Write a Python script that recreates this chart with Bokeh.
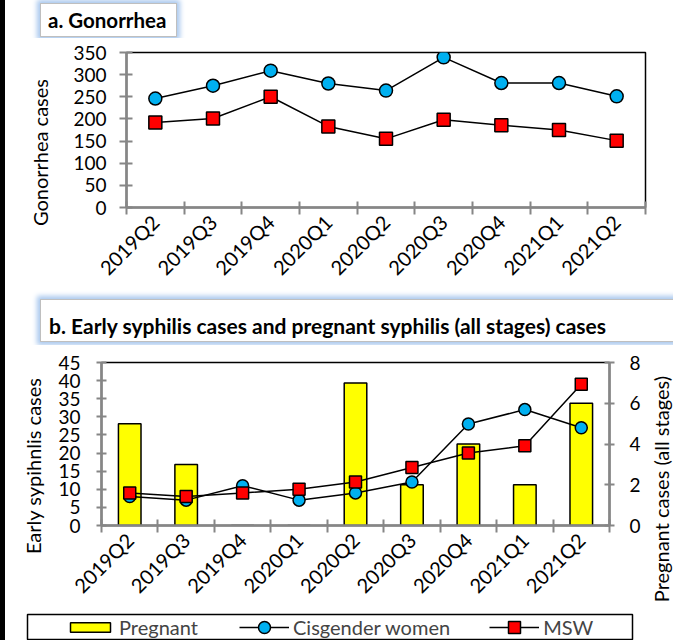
import math
from bokeh.plotting import figure
from bokeh.models import (Range1d, LinearAxis, FixedTicker, CustomJSTickFormatter,
                          Legend, LegendItem, Div)
from bokeh.layouts import column, row
from bokeh.embed import file_html
from bokeh.resources import INLINE

# ---------------- data ----------------
quarters = ["2019Q2", "2019Q3", "2019Q4", "2020Q1", "2020Q2",
            "2020Q3", "2020Q4", "2021Q1", "2021Q2"]
gonorrhea_women = [246, 275, 309, 280, 264, 339, 281, 281, 251]
gonorrhea_msw = [192, 201, 250, 183, 155, 198, 186, 175, 151]
syphilis_women = [8, 7, 11, 7, 9, 12, 28, 32, 27]
syphilis_msw = [9, 8, 9, 10, 12, 16, 20, 22, 39]
pregnant_cases = [5, 3, 0, 0, 7, 2, 4, 2, 6]
gon_ticks = [0, 50, 100, 150, 200, 250, 300, 350]
syph_ticks = [0, 5, 10, 15, 20, 25, 30, 35, 40, 45]
preg_ticks = [0, 2, 4, 6, 8]

FONT = "Lato"
GRAY = "#868686"
BLUE = "#00B0F0"
RED = "#FF0000"
YELLOW = "#FFFF00"
W = 673

n = len(quarters)
xs = [i + 0.5 for i in range(n)]
bounds = list(range(n + 1))


def style_xaxis(ax):
    ax.ticker = FixedTicker(ticks=xs, minor_ticks=bounds)
    ax.formatter = CustomJSTickFormatter(args=dict(cats=quarters),
                                         code="return cats[Math.floor(tick)];")
    ax.major_tick_line_color = None
    ax.major_tick_in = 0
    ax.major_tick_out = 0
    ax.minor_tick_line_color = GRAY
    ax.minor_tick_line_width = 2
    ax.minor_tick_in = 6
    ax.minor_tick_out = 7
    ax.axis_line_color = GRAY
    ax.axis_line_width = 2.5
    ax.major_label_orientation = math.pi / 4
    ax.major_label_text_font = FONT
    ax.major_label_text_font_size = "20px"
    ax.major_label_text_color = "black"
    ax.major_label_standoff = 4


def style_yaxis(ax, ticks, tin, tout, standoff):
    ax.ticker = FixedTicker(ticks=ticks)
    ax.axis_line_color = GRAY
    ax.axis_line_width = 2.5
    ax.major_tick_line_color = GRAY
    ax.major_tick_line_width = 2
    ax.major_tick_in = tin
    ax.major_tick_out = tout
    ax.minor_tick_line_color = None
    ax.major_label_text_font = FONT
    ax.major_label_text_font_size = "19px"
    ax.major_label_text_color = "black"
    ax.major_label_standoff = standoff


BOX = ("box-sizing:border-box;background:#ffffff;border:1px solid #bfbfbf;"
       "box-shadow:0 0 5px 3px #a9c8ee;font-family:Lato;font-weight:bold;"
       "color:#000000;white-space:nowrap;")

div_a = Div(text=f'<div style="width:{W}px;height:38px;overflow:hidden;padding-top:3px;box-sizing:border-box;">'
                 f'<div style="{BOX}font-size:20.5px;margin-left:40px;width:137px;'
                 f'height:34px;line-height:32px;padding-left:7px;">a. Gonorrhea</div></div>',
            width=W, height=38, margin=0)

div_b = Div(text=f'<div style="width:{W}px;height:55px;overflow:hidden;padding-top:9px;box-sizing:border-box;">'
                 f'<div style="{BOX}font-size:21px;margin-left:40px;width:650px;'
                 f'height:43px;line-height:24px;padding-top:14px;padding-left:8px;">'
                 f'b. Early syphilis cases and pregnant syphilis (all stages) cases</div></div>',
            width=W, height=55, margin=0)


def vlabel(text, w, h, pad_left, pad_top, pad_bottom):
    """Axis title written bottom-to-top, as in the reference."""
    return Div(text=(f'<div style="width:{w}px;height:{h}px;overflow:hidden;box-sizing:border-box;'
                     f'display:flex;align-items:center;padding-left:{pad_left}px;'
                     f'padding-top:{pad_top}px;padding-bottom:{pad_bottom}px;">'
                     f'<div style="writing-mode:vertical-rl;transform:rotate(180deg);'
                     f'font-family:Lato;font-size:20px;line-height:22px;color:#000000;'
                     f'white-space:nowrap;">{text}</div></div>'),
               width=w, height=h, margin=0)


def base_fig(**kw):
    p = figure(output_backend="svg", toolbar_location=None, frame_align=False, **kw)
    p.border_fill_alpha = 0
    return p


# ---------------- panel a ----------------
LA = 52
pa = base_fig(width=W - LA, height=252, x_range=Range1d(0, n), y_range=Range1d(0, 350),
              min_border_left=126 - LA, min_border_right=28, min_border_top=14,
              min_border_bottom=83)
pa.xgrid.grid_line_color = None
pa.ygrid.grid_line_color = None
pa.outline_line_color = "black"
pa.outline_line_width = 1.5
style_xaxis(pa.xaxis[0])
style_yaxis(pa.yaxis[0], gon_ticks, 6, 7, 13)

pa.line(xs, gonorrhea_women, line_color="black", line_width=1.5)
pa.scatter(xs, gonorrhea_women, marker="circle", size=13, fill_color=BLUE,
           line_color="black", line_width=1.5)
pa.line(xs, gonorrhea_msw, line_color="black", line_width=1.5)
pa.scatter(xs, gonorrhea_msw, marker="square", size=13, fill_color=RED,
           line_color="black", line_width=1.5)

lab_a = vlabel("Gonorrhea cases", LA, 252, 29, 0, 22)

# ---------------- panel b ----------------
LB, RB = 45, 25
pb = base_fig(width=W - LB - RB, height=263, x_range=Range1d(0, n), y_range=Range1d(0, 45),
              min_border_left=101 - LB, min_border_right=W - RB - 609, min_border_top=17,
              min_border_bottom=76)
pb.extra_y_ranges = {"preg": Range1d(0, 8)}
pb.xgrid.grid_line_color = None
pb.ygrid.grid_line_color = None
pb.outline_line_color = "black"
pb.outline_line_width = 1.5
style_xaxis(pb.xaxis[0])
style_yaxis(pb.yaxis[0], syph_ticks, 5, 5, 16)
ra = LinearAxis(y_range_name="preg")
style_yaxis(ra, preg_ticks, 5, 5, 15)
pb.add_layout(ra, "right")

pb.vbar(x=xs, top=pregnant_cases, width=0.4, y_range_name="preg",
        fill_color=YELLOW, line_color="black", line_width=1.5)
pb.line(xs, syphilis_women, line_color="black", line_width=1.5)
pb.scatter(xs, syphilis_women, marker="circle", size=12, fill_color=BLUE,
           line_color="black", line_width=1.5)
pb.line(xs, syphilis_msw, line_color="black", line_width=1.5)
pb.scatter(xs, syphilis_msw, marker="square", size=12, fill_color=RED,
           line_color="black", line_width=1.5)

lab_bl = vlabel("Early sypihnlis cases", LB, 263, 22, 0, 21)
lab_br = vlabel("Pregnant cases (all stages)", RB, 263, 2, 25, 0)

# ---------------- legend strip ----------------
pl = base_fig(width=W, height=32, x_axis_type=None, y_axis_type=None,
              x_range=Range1d(0, n), y_range=Range1d(0, 45),
              min_border_left=27, min_border_right=41, min_border_top=6, min_border_bottom=0)
pl.outline_line_color = "black"
pl.outline_line_width = 1.5
pl.xgrid.grid_line_color = None
pl.ygrid.grid_line_color = None
# legend-only renderers (hidden; the legend draws their swatches)
lg_bar = pl.vbar(x=xs, top=pregnant_cases, width=0.4, fill_color=YELLOW,
                 line_color="black", line_width=1.5, visible=False)
lg_lw = pl.line(xs, syphilis_women, line_color="black", line_width=1.5, visible=False)
lg_sw = pl.scatter(xs, syphilis_women, marker="circle", fill_color=BLUE,
                   line_color="black", line_width=1.5, visible=False)
lg_lm = pl.line(xs, syphilis_msw, line_color="black", line_width=1.5, visible=False)
lg_sm = pl.scatter(xs, syphilis_msw, marker="square", fill_color=RED,
                   line_color="black", line_width=1.5, visible=False)

common = dict(orientation="horizontal", padding=0, margin=0, border_line_color=None,
              background_fill_alpha=0, label_text_font=FONT, label_text_font_size="20px",
              label_standoff=4, glyph_width=50, inactive_fill_alpha=0)
leg1 = Legend(items=[LegendItem(label="Pregnant", renderers=[lg_bar])],
              location=(38, 1), glyph_height=12, **common)
leg2 = Legend(items=[LegendItem(label="Cisgender women", renderers=[lg_lw, lg_sw]),
                     LegendItem(label="MSW", renderers=[lg_lm, lg_sm])],
              location=(212, -2), glyph_height=30, spacing=39, **common)
pl.add_layout(leg1, "center")
pl.add_layout(leg2, "center")

layout = column(div_a, row(lab_a, pa, spacing=0), div_b,
                row(lab_bl, pb, lab_br, spacing=0), pl, spacing=0,
                styles={"background": "linear-gradient(to right, #000000 0px, #000000 5px, #ffffff 5px)"})
open("out.html", "w").write(file_html(layout, INLINE))
